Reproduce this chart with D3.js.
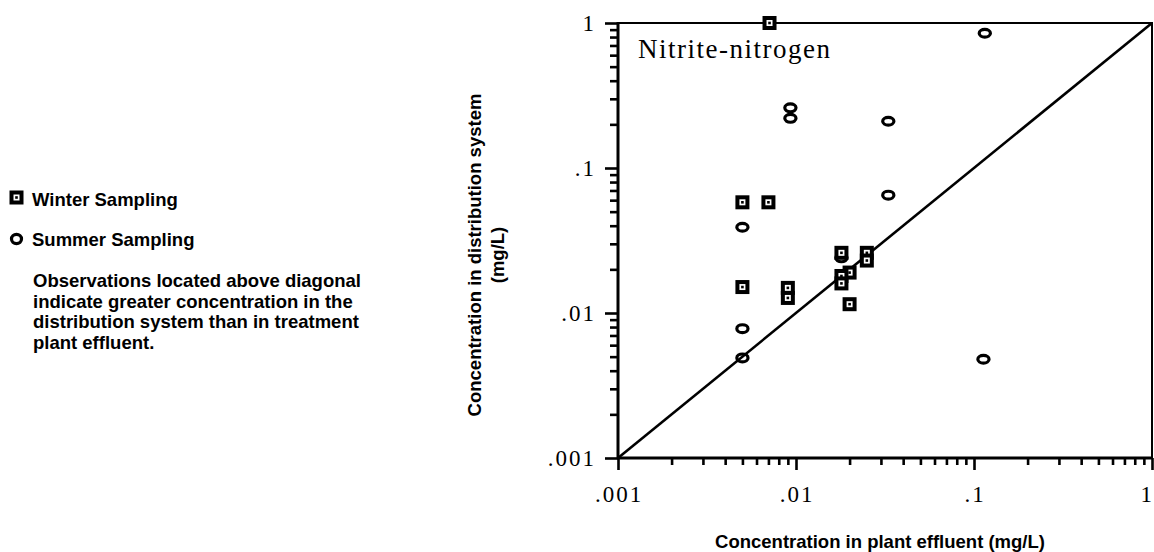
<!DOCTYPE html>
<html>
<head>
<meta charset="utf-8">
<script src="https://cdn.jsdelivr.net/npm/d3@7"></script>
<style>
  html, body { margin: 0; padding: 0; background: #fff; }
  svg { display: block; }
  .sans { font-family: "Liberation Sans", Arial, sans-serif; font-weight: bold; font-size: 18.5px; fill: #000; }
  .serif { font-family: "Liberation Serif", "Times New Roman", serif; fill: #000; }
</style>
</head>
<body>
<svg id="chart" width="1154" height="552"></svg>
<script>
// ---- data ----
const xTickValues = [0.001, 0.01, 0.1, 1];
const xTickLabels = [".001", ".01", ".1", "1"];
const yTickValues = [0.001, 0.01, 0.1, 1];
const yTickLabels = [".001", ".01", ".1", "1"];

// Winter sampling (plant effluent, distribution system) mg/L
const winterX = [0.0071, 0.005, 0.007, 0.018, 0.025, 0.025, 0.020, 0.018, 0.018, 0.005, 0.009, 0.009, 0.020];
const winterY = [1.0,    0.058, 0.058, 0.026, 0.026, 0.023, 0.019, 0.018, 0.016, 0.0151, 0.0149, 0.0127, 0.0115];
// Summer sampling
const summerX = [0.115, 0.0093, 0.0093, 0.033, 0.033, 0.005, 0.018, 0.005, 0.005, 0.113];
const summerY = [0.85,  0.26,   0.22,   0.21,  0.065, 0.039, 0.024, 0.0078, 0.0049, 0.0048];

const diagonal = [0.001, 1];

const legendLabels = ["Winter Sampling", "Summer Sampling"];
const noteLines = [
  "Observations located above diagonal",
  "indicate greater concentration in the",
  "distribution system than in treatment",
  "plant effluent."
];
const panelTitle = "Nitrite-nitrogen";
const xTitle = "Concentration in plant effluent (mg/L)";
const yTitleLines = ["Concentration in distribution system", "(mg/L)"];

// ---- drawing ----
const svg = d3.select("#chart");
const pLeft = 618, pRight = 1152, pTop = 23, pBottom = 458;

const x = d3.scaleLog().domain([0.001, 1]).range([pLeft, pRight]);
const y = d3.scaleLog().domain([0.001, 1]).range([pBottom, pTop]);

// minor tick values (2..9 in each decade)
const minor = [];
[0.001, 0.01, 0.1].forEach(d => { for (let k = 2; k <= 9; k++) minor.push(d * k); });

// X axis
const xAxisMajor = d3.axisBottom(x).tickValues(xTickValues).tickSize(12).tickFormat("");
const xAxisMinor = d3.axisBottom(x).tickValues(minor).tickSize(7).tickFormat("");
const gxMin = svg.append("g").attr("transform", `translate(0,${pBottom})`).call(xAxisMinor);
const gx = svg.append("g").attr("transform", `translate(0,${pBottom})`).call(xAxisMajor);
[gx, gxMin].forEach(g => {
  g.select(".domain").remove();
  g.selectAll(".tick line").attr("stroke", "#000").attr("stroke-width", 2.6);
});
svg.append("g").selectAll("text").data(xTickValues).join("text")
  .attr("class", "serif")
  .attr("x", (d, i) => i === xTickValues.length - 1 ? 1154 : x(d) + 1)
  .attr("y", 502)
  .attr("text-anchor", (d, i) => i === xTickValues.length - 1 ? "end" : "middle")
  .style("font-size", "23px")
  .style("letter-spacing", "2px")
  .text((d, i) => xTickLabels[i]);

// Y axis
const yAxisMajor = d3.axisLeft(y).tickValues(yTickValues).tickSize(13).tickFormat("");
const yAxisMinor = d3.axisLeft(y).tickValues(minor).tickSize(8).tickFormat("");
const gyMin = svg.append("g").attr("transform", `translate(${pLeft},0)`).call(yAxisMinor);
const gy = svg.append("g").attr("transform", `translate(${pLeft},0)`).call(yAxisMajor);
[gy, gyMin].forEach(g => {
  g.select(".domain").remove();
  g.selectAll(".tick line").attr("stroke", "#000").attr("stroke-width", 2.6);
});
svg.append("g").selectAll("text").data(yTickValues).join("text")
  .attr("class", "serif")
  .attr("x", 596)
  .attr("y", d => y(d) + 7.5)
  .attr("text-anchor", "end")
  .style("font-size", "23px")
  .style("letter-spacing", "2px")
  .text((d, i) => yTickLabels[i]);

// frame
svg.append("line").attr("x1", pLeft).attr("x2", pLeft).attr("y1", pTop - 1).attr("y2", pBottom + 1)
  .attr("stroke", "#000").attr("stroke-width", 3);
svg.append("line").attr("x1", pLeft - 1).attr("x2", pRight + 1).attr("y1", pBottom).attr("y2", pBottom)
  .attr("stroke", "#000").attr("stroke-width", 3);
svg.append("line").attr("x1", pLeft).attr("x2", pRight + 1).attr("y1", pTop).attr("y2", pTop)
  .attr("stroke", "#000").attr("stroke-width", 2.2);
svg.append("line").attr("x1", pRight).attr("x2", pRight).attr("y1", pTop).attr("y2", pBottom)
  .attr("stroke", "#000").attr("stroke-width", 2);

// diagonal
svg.append("line")
  .attr("x1", x(diagonal[0])).attr("y1", y(diagonal[0]))
  .attr("x2", x(diagonal[1])).attr("y2", y(diagonal[1]))
  .attr("stroke", "#000").attr("stroke-width", 2.6);

// panel title
svg.append("text").attr("class", "serif")
  .attr("x", 638).attr("y", 58)
  .style("font-size", "27px").style("letter-spacing", "1.5px")
  .text(panelTitle);

// markers
function squareMarker(g, cx, cy) {
  g.append("rect").attr("x", cx - 5).attr("y", cy - 5).attr("width", 10).attr("height", 10)
    .attr("fill", "#fff").attr("stroke", "#000").attr("stroke-width", 4);
  g.append("rect").attr("x", cx - 1.3).attr("y", cy - 1.3).attr("width", 2.6).attr("height", 2.6)
    .attr("fill", "#000");
}
function circleMarker(g, cx, cy, rx, ry) {
  g.append("ellipse").attr("cx", cx).attr("cy", cy).attr("rx", rx).attr("ry", ry)
    .attr("fill", "none").attr("stroke", "#000").attr("stroke-width", 3.2);
}

const gPts = svg.append("g");
summerX.forEach((v, i) => circleMarker(gPts, x(v), y(summerY[i]), 5.6, 3.9));
winterX.forEach((v, i) => squareMarker(gPts, x(v), y(winterY[i])));

// legend
const gL = svg.append("g");
squareMarker(gL, 16.5, 197.5);
circleMarker(gL, 16.5, 239, 5, 4.6);
gL.append("text").attr("class", "sans").attr("x", 32).attr("y", 205.5).text(legendLabels[0]);
gL.append("text").attr("class", "sans").attr("x", 32).attr("y", 245.5).text(legendLabels[1]);
gL.append("g").selectAll("text").data(noteLines).join("text")
  .attr("class", "sans")
  .attr("x", 33)
  .attr("y", (d, i) => 287 + i * 20.5)
  .text(d => d);

// axis titles
svg.append("text").attr("class", "sans")
  .attr("x", 880).attr("y", 548).attr("text-anchor", "middle")
  .text(xTitle);
svg.append("g").attr("transform", "translate(0,255) rotate(-90)")
  .selectAll("text").data(yTitleLines).join("text")
  .attr("class", "sans")
  .attr("x", 0)
  .attr("y", (d, i) => 481 + i * 23)
  .attr("text-anchor", "middle")
  .text(d => d);
</script>
</body>
</html>
